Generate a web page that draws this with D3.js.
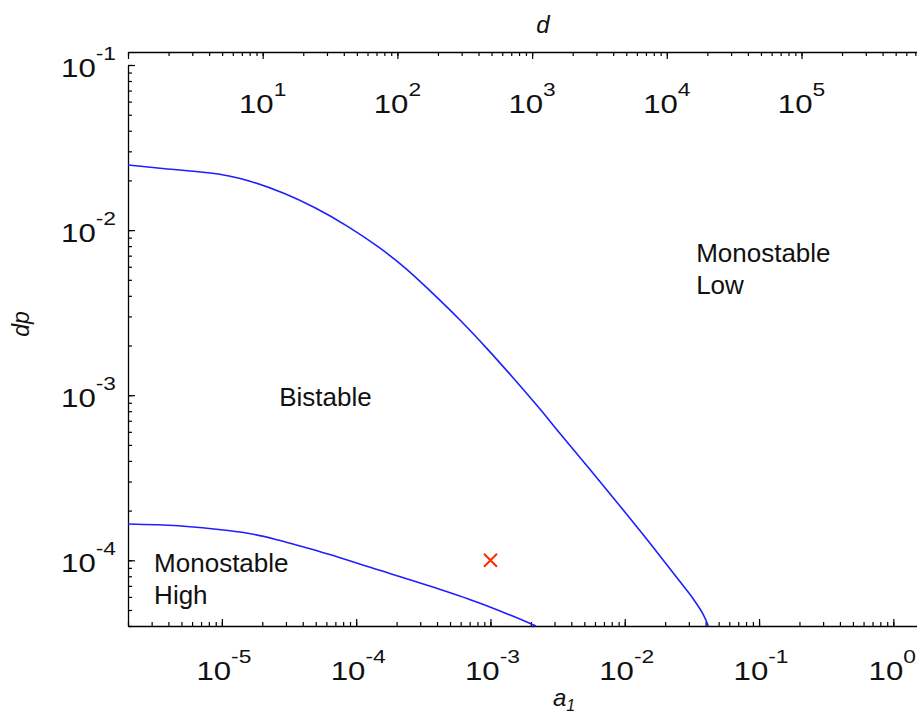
<!DOCTYPE html>
<html>
<head>
<meta charset="utf-8">
<script src="https://cdn.jsdelivr.net/npm/d3@7"></script>
<style>
  html, body { margin: 0; padding: 0; background: #fff; }
  svg { display: block; }
  text { font-family: "Liberation Sans", Arial, Helvetica, sans-serif; fill: #111; }
</style>
</head>
<body>
<svg id="chart" width="917" height="716"></svg>
<script>
// Bifurcation boundaries in the (a1, dp) plane
const upperA1 = [2e-6, 3.461e-6, 7.88e-6, 1.13e-5, 1.62e-5, 2.952e-5, 4.935e-5, 8.69e-5, 1.454e-4, 2.311e-4, 3.734e-4, 5.93e-4, 9.423e-4, 1.472e-3, 2.337e-3, 3.294e-3, 5.51e-3, 9.21e-3, 0.01541, 0.02448, 0.03238, 0.03844, 0.04187];
const upperDp = [0.02479, 0.02371, 0.02224, 0.02127, 0.01978, 0.0166, 0.01365, 0.0105, 0.007932, 0.005909, 0.004124, 0.002853, 0.001915, 0.001276, 8.25e-4, 5.86e-4, 3.548e-4, 2.133e-4, 1.269e-4, 7.83e-5, 5.83e-5, 4.695e-5, 4.0e-5];

const lowerA1 = [2e-6, 4.713e-6, 1.111e-5, 1.705e-5, 2.618e-5, 4.019e-5, 6.17e-5, 1.454e-4, 3.426e-4, 8.08e-4, 1.904e-3, 2.183e-3];
const lowerDp = [1.659e-4, 1.618e-4, 1.515e-4, 1.439e-4, 1.327e-4, 1.207e-4, 1.092e-4, 8.76e-5, 7.04e-5, 5.55e-5, 4.2e-5, 4.0e-5];

// Operating point
const markerA1 = [1e-3];
const markerDp = [1e-4];

// Region names
const regionNames = [["Monostable", "Low"], ["Bistable"], ["Monostable", "High"]];
const regionA1 = [0.034, 2.67e-5, 3.13e-6];
const regionDp = [6.4e-3, 8.6e-4, 8.55e-5];

// Decade tick labels (exponents of ten)
const a1Exps = [-5, -4, -3, -2, -1, 0];
const dpExps = [-1, -2, -3, -4];
const dExps = [1, 2, 3, 4, 5];

const svg = d3.select("#chart");

const plotLeft = 128, plotRight = 917, plotTop = 65, plotBottom = 626, topAxisY = 52;

const x = d3.scaleLog().domain([2e-6, 1.5]).range([plotLeft, plotRight]);
const y = d3.scaleLog().domain([4e-5, 0.1]).range([plotBottom, plotTop]);
const xd = d3.scaleLog().domain([1, 7.2e5]).range([plotLeft, plotRight]);

function minorTicks(scale) {
  const [lo, hi] = scale.domain();
  const out = [];
  for (let e = Math.floor(Math.log10(lo)); e <= Math.ceil(Math.log10(hi)); e++) {
    for (let k = 1; k <= 9; k++) {
      const v = k * Math.pow(10, e);
      if (v >= lo * 0.9999 && v <= hi * 1.0001) out.push(v);
    }
  }
  return out;
}
function majorTicks(scale) {
  return minorTicks(scale).filter(v => Math.abs(Math.log10(v) - Math.round(Math.log10(v))) < 1e-9);
}

function drawAxis(gen, scale, transform, flip) {
  const g = svg.append("g").attr("transform", transform);
  g.call(gen(scale).tickValues(minorTicks(scale)).tickSizeInner(flip ? 4 : -4).tickSizeOuter(0).tickFormat(""));
  const g2 = svg.append("g").attr("transform", transform);
  g2.call(gen(scale).tickValues(majorTicks(scale)).tickSizeInner(flip ? 7 : -7).tickSizeOuter(0).tickFormat(""));
  g2.select(".domain").remove();
  [g, g2].forEach(s => {
    s.selectAll("line").attr("stroke", "#000").attr("stroke-width", 1.2);
    s.selectAll(".domain").attr("stroke", "#000").attr("stroke-width", 1.3);
  });
}

// Bottom a1 axis, left dp axis, top d axis (ticks point into the plot)
drawAxis(d3.axisBottom, x, `translate(0,${plotBottom})`, false);
drawAxis(d3.axisLeft, y, `translate(${plotLeft},0)`, false);
drawAxis(d3.axisBottom, xd, `translate(0,${topAxisY})`, true);

function powLabel(px, py, exp, anchor) {
  const g = svg.append("g").attr("transform", `translate(${px},${py}) scale(1.2,1)`);
  const t = g.append("text").attr("text-anchor", anchor).style("font-size", "26px");
  t.append("tspan").text("10");
  t.append("tspan").attr("dy", -17).style("font-size", "19px").text(exp < 0 ? "-" + (-exp) : String(exp));
}

a1Exps.forEach(e => {
  const px = x(Math.pow(10, e)) + 2;
  // keep the last label inside the right edge
  if (px + 28 > plotRight) powLabel(plotRight - 1, 680, e, "end");
  else powLabel(px, 680, e, "middle");
});
dpExps.forEach(e => powLabel(116, y(Math.pow(10, e)) + 12, e, "end"));
dExps.forEach(e => powLabel(xd(Math.pow(10, e)), 113, e, "middle"));

// Axis titles
svg.append("text").attr("x", 543).attr("y", 33).attr("text-anchor", "middle")
  .style("font-size", "24px").style("font-style", "italic").text("d");
svg.append("text").attr("transform", "translate(29,324) rotate(-90)").attr("text-anchor", "middle")
  .style("font-size", "23px").style("font-style", "italic").text("dp");
const a1t = svg.append("text").attr("x", 553).attr("y", 706).style("font-size", "24px").style("font-style", "italic");
a1t.append("tspan").text("a");
a1t.append("tspan").attr("dy", 5).style("font-size", "16px").text("1");

// Boundary curves
const line = d3.line().x(d => x(d[0])).y(d => y(d[1])).curve(d3.curveCatmullRom.alpha(0.5));
[[upperA1, upperDp], [lowerA1, lowerDp]].forEach(([xs, ys]) => {
  svg.append("path")
    .datum(xs.map((v, i) => [v, ys[i]]))
    .attr("d", line)
    .attr("fill", "none")
    .attr("stroke", "#1f1fff")
    .attr("stroke-width", 1.6);
});

// Marker
markerA1.forEach((a, i) => {
  const cx = x(a), cy = y(markerDp[i]), r = 6.5;
  svg.append("path")
    .attr("d", `M${cx - r},${cy - r}L${cx + r},${cy + r}M${cx - r},${cy + r}L${cx + r},${cy - r}`)
    .attr("stroke", "#ff2a00").attr("stroke-width", 2).attr("fill", "none");
});

// Region labels
regionNames.forEach((lines, i) => {
  const t = svg.append("text").attr("x", x(regionA1[i])).attr("y", y(regionDp[i])).style("font-size", "26px");
  lines.forEach((s, j) => {
    t.append("tspan").attr("x", x(regionA1[i])).attr("dy", j === 0 ? 0 : 32).text(s);
  });
});
</script>
</body>
</html>
